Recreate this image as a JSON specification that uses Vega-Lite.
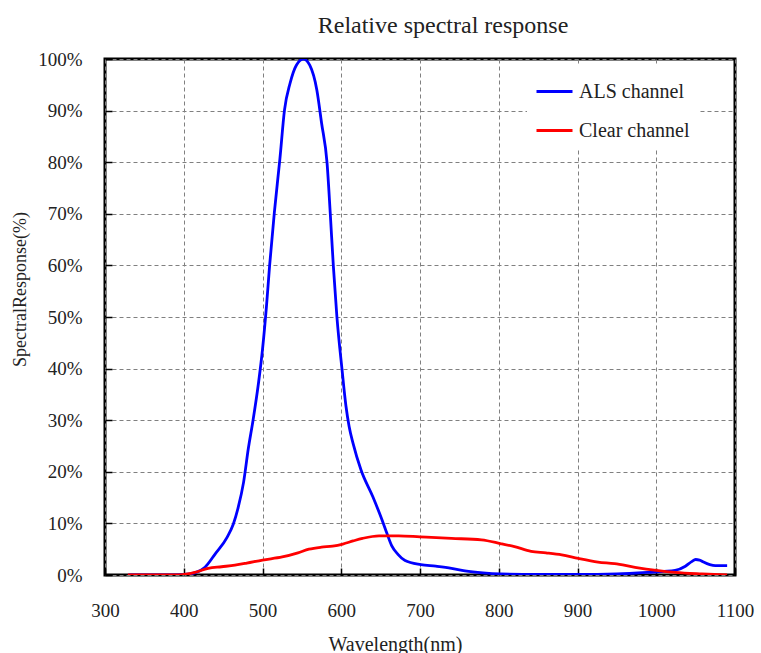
{
  "$schema": "https://vega.github.io/schema/vega-lite/v6.json",
  "width": 630,
  "height": 516,
  "autosize": {"type": "none"},
  "padding": {"left": 105, "top": 59, "right": 26, "bottom": 78},
  "background": "white",
  "title": {
    "text": "Relative spectral response",
    "font": "Liberation Serif",
    "fontSize": 24,
    "fontWeight": "normal",
    "color": "#222222",
    "offset": 12,
    "dx": 23
  },
  "config": {
    "view": {"stroke": "black", "strokeWidth": 3},
    "font": "Liberation Serif"
  },
  "data": {
    "values": [
      {"wl": 330, "v": 0, "s": "ALS channel"},
      {"wl": 380, "v": 0, "s": "ALS channel"},
      {"wl": 400, "v": 0.1, "s": "ALS channel"},
      {"wl": 414, "v": 0.4, "s": "ALS channel"},
      {"wl": 427, "v": 1.5, "s": "ALS channel"},
      {"wl": 440, "v": 4.1, "s": "ALS channel"},
      {"wl": 455, "v": 7.3, "s": "ALS channel"},
      {"wl": 463, "v": 9.9, "s": "ALS channel"},
      {"wl": 469, "v": 13, "s": "ALS channel"},
      {"wl": 476, "v": 18, "s": "ALS channel"},
      {"wl": 482, "v": 24.5, "s": "ALS channel"},
      {"wl": 488, "v": 30, "s": "ALS channel"},
      {"wl": 495, "v": 37.3, "s": "ALS channel"},
      {"wl": 500, "v": 43.7, "s": "ALS channel"},
      {"wl": 505, "v": 52, "s": "ALS channel"},
      {"wl": 509, "v": 59.9, "s": "ALS channel"},
      {"wl": 515, "v": 70.2, "s": "ALS channel"},
      {"wl": 522, "v": 80.5, "s": "ALS channel"},
      {"wl": 528, "v": 90.2, "s": "ALS channel"},
      {"wl": 535, "v": 95.3, "s": "ALS channel"},
      {"wl": 543, "v": 98.8, "s": "ALS channel"},
      {"wl": 552, "v": 100, "s": "ALS channel"},
      {"wl": 560, "v": 98.8, "s": "ALS channel"},
      {"wl": 569, "v": 94, "s": "ALS channel"},
      {"wl": 575, "v": 87.6, "s": "ALS channel"},
      {"wl": 582, "v": 79.8, "s": "ALS channel"},
      {"wl": 586, "v": 70.2, "s": "ALS channel"},
      {"wl": 590, "v": 59.8, "s": "ALS channel"},
      {"wl": 594.5, "v": 50, "s": "ALS channel"},
      {"wl": 601, "v": 39.8, "s": "ALS channel"},
      {"wl": 606, "v": 32.7, "s": "ALS channel"},
      {"wl": 610, "v": 28.8, "s": "ALS channel"},
      {"wl": 615, "v": 25.5, "s": "ALS channel"},
      {"wl": 625, "v": 20.4, "s": "ALS channel"},
      {"wl": 640, "v": 15.2, "s": "ALS channel"},
      {"wl": 651, "v": 11, "s": "ALS channel"},
      {"wl": 657, "v": 8.5, "s": "ALS channel"},
      {"wl": 664, "v": 5.7, "s": "ALS channel"},
      {"wl": 672, "v": 4.0, "s": "ALS channel"},
      {"wl": 681, "v": 2.8, "s": "ALS channel"},
      {"wl": 701, "v": 2.0, "s": "ALS channel"},
      {"wl": 720, "v": 1.7, "s": "ALS channel"},
      {"wl": 740, "v": 1.3, "s": "ALS channel"},
      {"wl": 757, "v": 0.8, "s": "ALS channel"},
      {"wl": 780, "v": 0.4, "s": "ALS channel"},
      {"wl": 802, "v": 0.2, "s": "ALS channel"},
      {"wl": 850, "v": 0.1, "s": "ALS channel"},
      {"wl": 900, "v": 0.1, "s": "ALS channel"},
      {"wl": 950, "v": 0.2, "s": "ALS channel"},
      {"wl": 990, "v": 0.5, "s": "ALS channel"},
      {"wl": 1010, "v": 0.7, "s": "ALS channel"},
      {"wl": 1024, "v": 0.9, "s": "ALS channel"},
      {"wl": 1037, "v": 1.7, "s": "ALS channel"},
      {"wl": 1045, "v": 2.6, "s": "ALS channel"},
      {"wl": 1050, "v": 3.0, "s": "ALS channel"},
      {"wl": 1055, "v": 2.9, "s": "ALS channel"},
      {"wl": 1060, "v": 2.5, "s": "ALS channel"},
      {"wl": 1068, "v": 2.0, "s": "ALS channel"},
      {"wl": 1075, "v": 1.8, "s": "ALS channel"},
      {"wl": 1090, "v": 1.8, "s": "ALS channel"},
      {"wl": 329, "v": 0, "s": "Clear channel"},
      {"wl": 360, "v": 0, "s": "Clear channel"},
      {"wl": 393, "v": 0, "s": "Clear channel"},
      {"wl": 405, "v": 0.2, "s": "Clear channel"},
      {"wl": 414, "v": 0.5, "s": "Clear channel"},
      {"wl": 431, "v": 1.3, "s": "Clear channel"},
      {"wl": 448, "v": 1.6, "s": "Clear channel"},
      {"wl": 465, "v": 1.9, "s": "Clear channel"},
      {"wl": 480, "v": 2.3, "s": "Clear channel"},
      {"wl": 500, "v": 2.9, "s": "Clear channel"},
      {"wl": 525, "v": 3.5, "s": "Clear channel"},
      {"wl": 545, "v": 4.3, "s": "Clear channel"},
      {"wl": 559, "v": 5.0, "s": "Clear channel"},
      {"wl": 575, "v": 5.4, "s": "Clear channel"},
      {"wl": 589, "v": 5.6, "s": "Clear channel"},
      {"wl": 602, "v": 6.0, "s": "Clear channel"},
      {"wl": 615, "v": 6.6, "s": "Clear channel"},
      {"wl": 627, "v": 7.1, "s": "Clear channel"},
      {"wl": 648, "v": 7.6, "s": "Clear channel"},
      {"wl": 673, "v": 7.6, "s": "Clear channel"},
      {"wl": 700, "v": 7.4, "s": "Clear channel"},
      {"wl": 740, "v": 7.1, "s": "Clear channel"},
      {"wl": 778, "v": 6.8, "s": "Clear channel"},
      {"wl": 802, "v": 6.1, "s": "Clear channel"},
      {"wl": 820, "v": 5.5, "s": "Clear channel"},
      {"wl": 841, "v": 4.6, "s": "Clear channel"},
      {"wl": 860, "v": 4.3, "s": "Clear channel"},
      {"wl": 880, "v": 3.9, "s": "Clear channel"},
      {"wl": 901, "v": 3.2, "s": "Clear channel"},
      {"wl": 926, "v": 2.5, "s": "Clear channel"},
      {"wl": 947, "v": 2.2, "s": "Clear channel"},
      {"wl": 973, "v": 1.5, "s": "Clear channel"},
      {"wl": 1000, "v": 0.9, "s": "Clear channel"},
      {"wl": 1024, "v": 0.5, "s": "Clear channel"},
      {"wl": 1058, "v": 0.2, "s": "Clear channel"},
      {"wl": 1090, "v": 0, "s": "Clear channel"}
    ]
  },
  "mark": {"type": "line", "interpolate": "monotone", "strokeWidth": 2.8, "clip": true},
  "encoding": {
    "x": {
      "field": "wl",
      "type": "quantitative",
      "scale": {"domain": [300, 1100], "nice": false},
      "axis": {
        "title": "Wavelength(nm)",
        "values": [300, 400, 500, 600, 700, 800, 900, 1000, 1100],
        "format": "d",
        "grid": true,
        "gridColor": "#808080",
        "gridDash": [4, 3],
        "gridWidth": 1,
        "gridOpacity": 1,
        "domain": false,
        "tickSize": -7,
        "tickColor": "black",
        "tickWidth": 1.5,
        "labelPadding": 33,
        "labelFont": "Liberation Serif",
        "labelFontSize": 19,
        "labelColor": "#222222",
        "labelFlush": false,
        "titleFont": "Liberation Serif",
        "titleFontSize": 20,
        "titleFontWeight": "normal",
        "titleColor": "#222222",
        "titlePadding": 14,
        "titleX": 290
      }
    },
    "y": {
      "field": "v",
      "type": "quantitative",
      "scale": {"domain": [0, 100], "nice": false},
      "axis": {
        "title": "SpectralResponse(%)",
        "values": [0, 10, 20, 30, 40, 50, 60, 70, 80, 90, 100],
        "labelExpr": "datum.value + '%'",
        "grid": true,
        "gridColor": "#808080",
        "gridDash": [4, 3],
        "gridWidth": 1,
        "gridOpacity": 1,
        "domain": false,
        "tickSize": -7,
        "tickColor": "black",
        "tickWidth": 1.5,
        "labelPadding": 30,
        "labelFont": "Liberation Serif",
        "labelFontSize": 19,
        "labelColor": "#222222",
        "titleFont": "Liberation Serif",
        "titleFontSize": 18,
        "titleFontWeight": "normal",
        "titleColor": "#222222",
        "titlePadding": 8,
        "titleY": 230
      }
    },
    "color": {
      "field": "s",
      "type": "nominal",
      "scale": {"domain": ["ALS channel", "Clear channel"], "range": ["#0000ff", "#ff0000"]},
      "legend": {
        "title": null,
        "orient": "none",
        "legendX": 422,
        "legendY": 5,
        "fillColor": "white",
        "padding": 8,
        "symbolType": "stroke",
        "symbolSize": 1296,
        "symbolStrokeWidth": 2.8,
        "labelFont": "Liberation Serif",
        "labelFontSize": 20,
        "labelColor": "#222222",
        "labelOffset": 5,
        "rowPadding": 9
      }
    }
  }
}
